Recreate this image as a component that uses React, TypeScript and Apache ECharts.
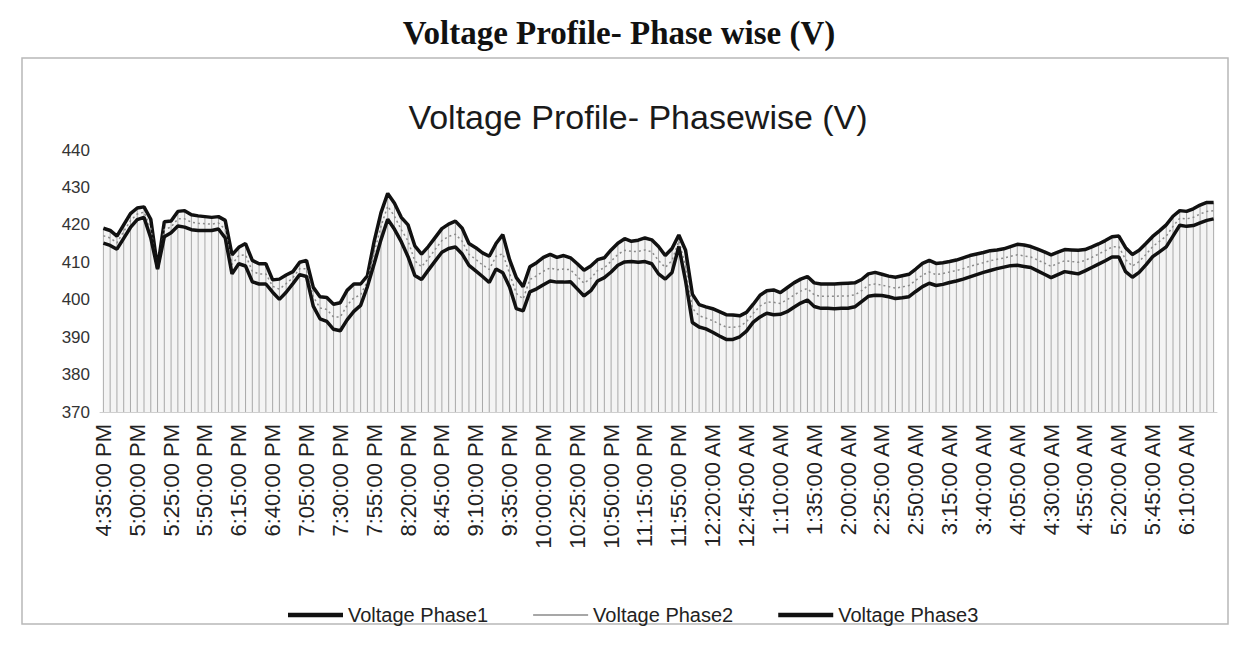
import React, { useEffect, useRef } from "react";
import * as echarts from "echarts";

// Time stamps in minutes after midnight (5-minute logging; a few records missing after 11:25 PM)
const startMinutes = 16 * 60 + 35; // 4:35 PM
const firstBlockCount = 83; // 4:35 PM .. 11:25 PM
const resumeMinutes = 23 * 60 + 45; // 11:45 PM
const secondBlockCount = 82; // 11:45 PM .. 6:30 AM

function fmt(m: number): string {
  const mm = ((m % 1440) + 1440) % 1440;
  let h = Math.floor(mm / 60);
  const mi = mm % 60;
  const ap = h >= 12 ? "PM" : "AM";
  h = h % 12;
  if (h === 0) h = 12;
  return `${h}:${String(mi).padStart(2, "0")}:00 ${ap}`;
}

const categories: string[] = [];
for (let i = 0; i < firstBlockCount; i++) categories.push(fmt(startMinutes + 5 * i));
for (let i = 0; i < secondBlockCount; i++) categories.push(fmt(resumeMinutes + 5 * i));

const phase1 = [
  419.1, 418.5, 417.0, 420.0, 423.0, 424.5, 424.8, 421.5, 408.5, 420.8,
  421.0, 423.6, 423.8, 422.7, 422.4, 422.2, 422.0, 422.2, 421.2, 412.0,
  414.0, 415.0, 410.5, 409.6, 409.6, 405.3, 405.5, 406.6, 407.5, 410.0,
  410.5, 403.3, 400.8, 400.6, 398.8, 399.2, 402.5, 404.2, 404.2, 406.4,
  415.6, 423.2, 428.4, 425.8, 422.0, 420.0, 414.4, 412.2, 414.2, 416.6,
  419.0, 420.2, 421.0, 419.1, 415.0, 413.9, 412.5, 411.6, 415.0, 417.4,
  410.7, 405.9, 403.5, 408.8, 409.9, 411.3, 412.1, 411.3, 411.8, 411.2,
  409.6, 407.9, 409.0, 410.7, 411.2, 413.3, 415.1, 416.3, 415.6, 415.9,
  416.5, 416.0, 414.2, 411.8, 413.7, 417.3, 413.2, 401.5, 398.7, 398.1,
  397.6, 396.8, 396.0, 395.9, 395.7, 396.6, 398.8, 401.2, 402.4, 402.6,
  401.9, 403.2, 404.5, 405.5, 406.2, 404.5, 404.2, 404.2, 404.2, 404.3,
  404.4, 404.5, 405.4, 406.9, 407.3, 406.8, 406.3, 406.0, 406.4, 406.8,
  408.2, 409.7, 410.5, 409.7, 409.9, 410.2, 410.6, 411.2, 411.8, 412.2,
  412.6, 413.1, 413.3, 413.6, 414.2, 414.8, 414.6, 414.2, 413.5, 412.8,
  412.0, 412.7, 413.4, 413.3, 413.2, 413.4, 414.1, 414.9, 415.8, 416.8,
  417.0, 413.9, 412.1, 413.2, 415.0, 416.9, 418.4, 420.0, 422.3, 423.8,
  423.6, 424.3, 425.3, 426.0, 426.0,
];

const phase2 = [
  417.1, 416.5, 415.2, 418.2, 421.1, 422.9, 423.4, 419.0, 408.3, 418.8,
  419.4, 421.6, 421.6, 420.7, 420.4, 420.3, 420.2, 420.5, 418.8, 409.4,
  411.8, 412.0, 407.6, 406.9, 406.9, 403.6, 402.8, 404.3, 405.9, 408.3,
  408.3, 400.8, 397.8, 397.4, 395.4, 395.4, 398.5, 400.5, 401.3, 404.9,
  412.6, 419.6, 425.0, 422.3, 418.7, 415.7, 410.4, 408.8, 411.0, 413.4,
  415.8, 416.9, 417.5, 415.6, 412.1, 410.8, 409.3, 408.1, 411.6, 412.3,
  407.0, 401.7, 400.2, 405.4, 406.4, 407.6, 408.5, 408.0, 408.2, 408.0,
  406.2, 404.4, 405.7, 407.8, 408.5, 410.3, 412.1, 413.2, 412.9, 412.9,
  413.3, 412.8, 410.5, 408.6, 410.5, 415.7, 409.1, 397.7, 395.7, 395.1,
  394.4, 393.5, 392.7, 392.6, 392.9, 394.1, 396.4, 398.3, 399.4, 399.3,
  399.0, 400.0, 401.2, 402.3, 403.0, 401.3, 400.9, 400.9, 400.9, 401.0,
  401.0, 401.3, 402.4, 403.9, 404.2, 403.9, 403.5, 403.1, 403.4, 403.8,
  405.2, 406.6, 407.4, 406.7, 407.0, 407.4, 407.8, 408.3, 408.9, 409.4,
  409.9, 410.4, 410.8, 411.1, 411.6, 412.0, 411.7, 411.4, 410.6, 409.8,
  408.9, 409.7, 410.4, 410.2, 410.0, 410.5, 411.3, 412.2, 413.1, 414.1,
  414.2, 410.7, 409.0, 410.2, 412.1, 414.2, 415.6, 417.0, 419.6, 421.8,
  421.6, 422.0, 422.9, 423.6, 423.8,
];

const phase3 = [
  415.1, 414.5, 413.5, 416.4, 419.3, 421.4, 422.0, 416.5, 408.2, 416.8,
  417.9, 419.7, 419.4, 418.7, 418.5, 418.5, 418.5, 418.9, 416.5, 406.9,
  409.6, 409.0, 404.8, 404.2, 404.2, 402.0, 400.1, 402.0, 404.3, 406.7,
  406.2, 398.3, 394.9, 394.2, 392.1, 391.7, 394.6, 396.9, 398.5, 403.5,
  409.6, 416.0, 421.5, 418.8, 415.5, 411.5, 406.5, 405.4, 407.9, 410.3,
  412.7, 413.7, 414.1, 412.2, 409.2, 407.7, 406.2, 404.6, 408.2, 407.2,
  403.4, 397.6, 397.0, 402.1, 402.9, 404.0, 405.0, 404.7, 404.7, 404.8,
  402.9, 401.0, 402.4, 405.0, 405.9, 407.4, 409.2, 410.1, 410.2, 410.0,
  410.2, 409.6, 406.9, 405.5, 407.3, 414.2, 405.0, 393.9, 392.7, 392.2,
  391.3, 390.3, 389.4, 389.4, 390.1, 391.6, 394.0, 395.4, 396.4, 396.0,
  396.1, 396.8, 398.0, 399.1, 399.9, 398.2, 397.7, 397.7, 397.6, 397.7,
  397.7, 398.1, 399.5, 400.9, 401.2, 401.1, 400.8, 400.3, 400.5, 400.8,
  402.2, 403.5, 404.4, 403.8, 404.1, 404.6, 405.0, 405.5, 406.1, 406.7,
  407.3, 407.8, 408.3, 408.7, 409.1, 409.2, 408.9, 408.6, 407.7, 406.8,
  405.9, 406.7, 407.5, 407.2, 406.9, 407.7, 408.6, 409.5, 410.4, 411.4,
  411.4, 407.5, 406.0, 407.3, 409.3, 411.5, 412.8, 414.1, 417.0, 419.9,
  419.6, 419.8, 420.5, 421.2, 421.6,
];

const yTicks = { min: 370, max: 440, interval: 10 };
const seriesNames = ["Voltage Phase1", "Voltage Phase2", "Voltage Phase3"];
const pageTitle = "Voltage Profile- Phase wise (V)";
const chartTitle = "Voltage Profile- Phasewise (V)";

const thickIcon = "path://M0 0H100V8H0Z";
const thinIcon = "path://M0 0H100V2.5H0Z";

export default function App() {
  const ref = useRef<HTMLDivElement>(null);

  useEffect(() => {
    document.body.style.margin = "0";
    if (!ref.current) return;
    const chart = echarts.init(ref.current, undefined, { renderer: "svg" });
    const font = "'Liberation Sans', Arial, sans-serif";
    chart.setOption({
      animation: false,
      backgroundColor: "#ffffff",
      graphic: [
        {
          type: "rect",
          shape: { x: 22, y: 58, width: 1206, height: 566 },
          style: { fill: "none", stroke: "#b8b8b8", lineWidth: 1.5 },
          silent: true,
          z: -1,
        },
        {
          type: "text",
          x: 619,
          y: 33,
          style: {
            text: pageTitle,
            fontFamily: "'Liberation Serif', 'Times New Roman', serif",
            fontWeight: "bold",
            fontSize: 33,
            fill: "#111",
            textAlign: "center",
            textVerticalAlign: "middle",
          },
        },
        {
          type: "text",
          x: 638,
          y: 117,
          style: {
            text: chartTitle,
            fontFamily: font,
            fontSize: 34,
            fill: "#1a1a1a",
            textAlign: "center",
            textVerticalAlign: "middle",
          },
        },
      ],
      legend: {
        data: [
          { name: seriesNames[0], icon: thickIcon },
          { name: seriesNames[1], icon: thinIcon },
          { name: seriesNames[2], icon: thickIcon },
        ],
        left: 283,
        top: 600,
        itemWidth: 55,
        itemHeight: 12,
        itemGap: 45,
        symbolKeepAspect: true,
        textStyle: { fontFamily: font, fontSize: 20, color: "#222" },
      },
      grid: {
        left: 100,
        right: 25,
        top: 150,
        bottom: 237,
        outerBoundsMode: "none",
        containLabel: false,
      },
      xAxis: {
        type: "category",
        data: categories,
        boundaryGap: true,
        axisTick: { show: false },
        axisLine: { show: true, lineStyle: { color: "#cfcfcf" } },
        axisLabel: {
          rotate: 90,
          interval: 4,
          margin: 12,
          fontFamily: font,
          fontSize: 22,
          color: "#222",
        },
      },
      yAxis: {
        type: "value",
        min: yTicks.min,
        max: yTicks.max,
        interval: yTicks.interval,
        splitLine: { show: false },
        axisLine: { show: false },
        axisTick: { show: false },
        axisLabel: { fontFamily: font, fontSize: 17, color: "#333", margin: 10 },
      },
      series: [
        {
          name: "hatch",
          type: "bar",
          data: phase1,
          barWidth: 1,
          silent: true,
          itemStyle: { color: "rgba(100,100,100,0.5)" },
          z: 1,
        },
        {
          name: seriesNames[0],
          type: "line",
          data: phase1,
          showSymbol: false,
          symbol: "none",
          lineStyle: { color: "#111", width: 3.5 },
          itemStyle: { color: "#111" },
          areaStyle: { color: "rgba(0,0,0,0.06)", origin: "start" },
          z: 3,
        },
        {
          name: seriesNames[1],
          type: "line",
          data: phase2,
          showSymbol: false,
          symbol: "none",
          lineStyle: { color: "#8a8a8a", width: 1.5, type: [2, 3] },
          itemStyle: { color: "#8a8a8a" },
          z: 3,
        },
        {
          name: seriesNames[2],
          type: "line",
          data: phase3,
          showSymbol: false,
          symbol: "none",
          lineStyle: { color: "#111", width: 3.5 },
          itemStyle: { color: "#111" },
          z: 3,
        },
      ],
    });
    return () => chart.dispose();
  }, []);

  return (
    <div
      ref={ref}
      style={{ position: "fixed", left: 0, top: 0, width: 1242, height: 649 }}
    />
  );
}
